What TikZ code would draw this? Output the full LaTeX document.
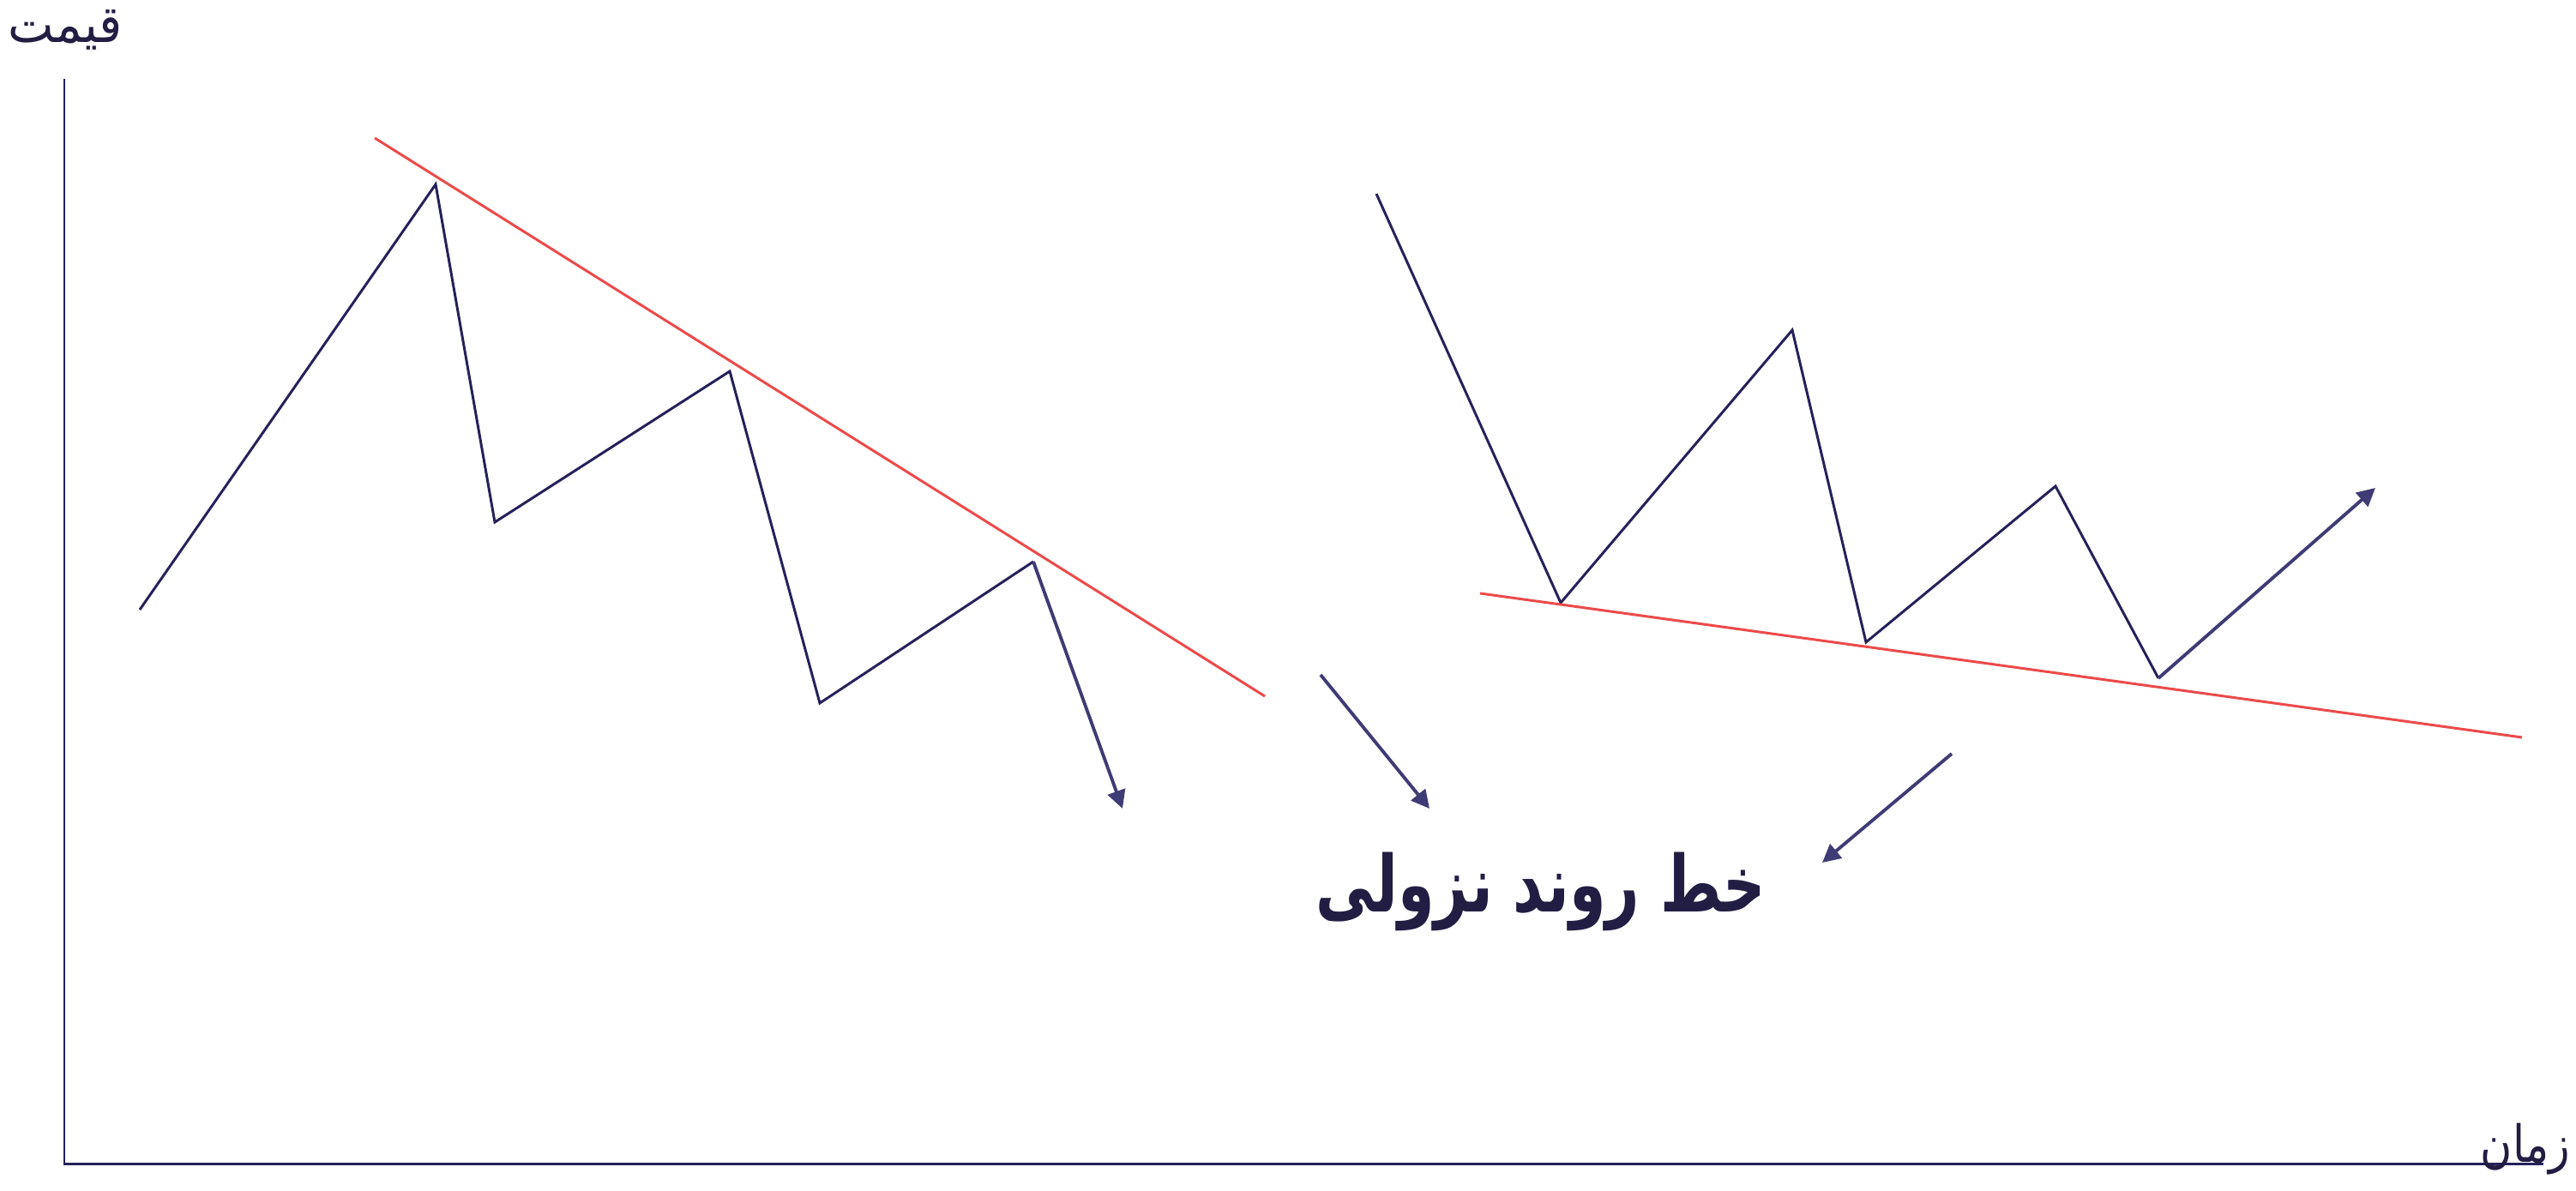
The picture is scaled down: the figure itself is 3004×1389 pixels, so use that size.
\documentclass[tikz,border=0pt]{standalone}
\usepackage{fontspec}
\usetikzlibrary{arrows.meta}
\TeXXeTstate=1
\newfontfamily\arabicfont[Script=Arabic]{DejaVu Sans}
\definecolor{chartnavy}{HTML}{25215A}
\definecolor{chartred}{HTML}{EC4A4A}
\definecolor{arrowpurple}{HTML}{3F3B74}
\definecolor{labelnavy}{HTML}{221D42}

\begin{document}
\begin{tikzpicture}[x=0.01cm, y=-0.01cm,
    price/.style={chartnavy, line width=0.85pt, line join=miter},
    trend/.style={chartred, line width=0.85pt},
    pointer/.style={arrowpurple, line width=1.1pt, -{Triangle[length=6pt,width=6pt]}},
    axislabel/.style={text=labelnavy, inner sep=0pt, font=\arabicfont\fontsize{17}{20}\selectfont}]
        \useasboundingbox (0,0) rectangle (3004,1389);

        % Axes
        \coordinate (origin) at (75,1357);
        \coordinate (ytop) at (75,92);
        \coordinate (xend) at (2966,1357);
        \draw[chartnavy, line width=0.85pt] (ytop) -- (origin) -- (xend);
        \node[axislabel] (ylabel) at (76,35) {\scalebox{0.95}[1]{\beginR قیمت\endR}};
        \node[axislabel, anchor=east] (xlabel) at (2998,1340) {\scalebox{0.85}[1]{\beginR زمان\endR}};

        % Falling prices, left
        \coordinate (a1) at (163,711);
        \coordinate (a2) at (508,215);
        \coordinate (a3) at (577,609);
        \coordinate (a4) at (851,433);
        \coordinate (a5) at (956,820);
        \coordinate (a6) at (1205,655);
        \coordinate (a7) at (1309,943);
        \draw[price] (a1) -- (a2) -- (a3) -- (a4) -- (a5) -- (a6);
        \draw[pointer] (a6) -- (a7);
        \coordinate (t1) at (437,161);
        \coordinate (t2) at (1475,812);
        \draw[trend] (t1) -- (t2);

        % Rising prices, right
        \coordinate (b1) at (1605,226);
        \coordinate (b2) at (1820,703);
        \coordinate (b3) at (2090,385);
        \coordinate (b4) at (2176,749);
        \coordinate (b5) at (2397,567);
        \coordinate (b6) at (2517,791);
        \coordinate (b7) at (2770,569);
        \draw[price] (b1) -- (b2) -- (b3) -- (b4) -- (b5) -- (b6);
        \draw[pointer] (b6) -- (b7);
        \coordinate (s1) at (1726,692);
        \coordinate (s2) at (2941,860);
        \draw[trend] (s1) -- (s2);

        % Title and pointers to the trend lines
        \node[text=labelnavy, font=\arabicfont\bfseries\fontsize{26}{30}\selectfont] (title) at (1797,1040) {\scalebox{0.75}[1]{\beginR خط روند نزولی\endR}};
        \coordinate (p1) at (1540,787);
        \coordinate (p2) at (1667,943);
        \coordinate (q1) at (2276,879);
        \coordinate (q2) at (2125,1006);
        \draw[pointer] (p1) -- (p2);
        \draw[pointer] (q1) -- (q2);
      \end{tikzpicture}
\end{document}
